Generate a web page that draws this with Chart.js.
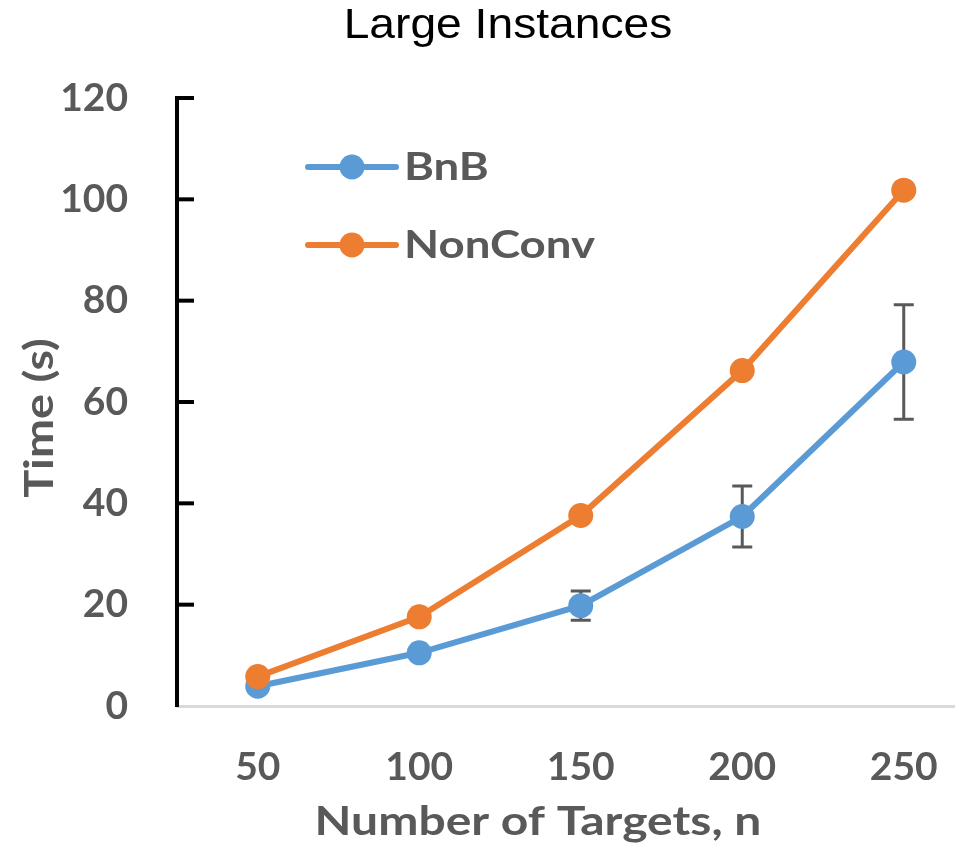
<!DOCTYPE html>
<html>
<head>
<meta charset="utf-8">
<title>Large Instances</title>
<script src="https://cdn.jsdelivr.net/npm/chart.js@4.4.1/dist/chart.umd.min.js"></script>
<style>
  html, body { margin: 0; padding: 0; background: #fff; overflow: hidden; }
  #wrap { width: 955px; height: 848px; position: relative; }
</style>
</head>
<body>
<div id="wrap"><canvas id="chart" width="955" height="848"></canvas></div>
<script>
// data
const targets = [50, 100, 150, 200, 250];
const bnbTime = [3.9, 10.5, 19.8, 37.4, 67.9];
const bnbErr = [null, null, 2.9, 6.0, 11.3];
const nonConvTime = [5.8, 17.6, 37.6, 66.2, 101.8];
const yTicks = [0, 20, 40, 60, 80, 100, 120];

const GREY = '#595959';
const BLUE = '#5B9BD5';
const ORANGE = '#ED7D31';
const tickFont = { family: 'Lato', weight: 'bold', size: 39 };

const toPoints = vals => targets.map((x, i) => ({ x: x, y: vals[i] }));

// draws text stretched along its baseline, like the original export
function wideText(ctx, text, x, y, sx, rot) {
  ctx.save();
  ctx.translate(x, y);
  if (rot) ctx.rotate(rot);
  ctx.scale(sx, 1);
  ctx.fillText(text, 0, 0);
  ctx.restore();
}

// error bars, inner y ticks, titles and legend
const extras = {
  id: 'extras',
  beforeDatasetsDraw(chart) {
    const { ctx, chartArea, scales: { x, y } } = chart;
    ctx.save();
    // let the category axis line run to the edge of the picture
    ctx.strokeStyle = '#d9d9d9';
    ctx.lineWidth = 3;
    ctx.beginPath();
    ctx.moveTo(chartArea.right - 2, Math.round(x.top) + 0.5);
    ctx.lineTo(chart.width, Math.round(x.top) + 0.5);
    ctx.stroke();
    // error bars
    ctx.strokeStyle = GREY;
    ctx.lineWidth = 3;
    bnbErr.forEach((e, i) => {
      if (e == null) return;
      const px = x.getPixelForValue(targets[i]);
      const top = y.getPixelForValue(bnbTime[i] + e);
      const bot = y.getPixelForValue(bnbTime[i] - e);
      ctx.beginPath();
      ctx.moveTo(px, top); ctx.lineTo(px, bot);
      ctx.moveTo(px - 10, top); ctx.lineTo(px + 10, top);
      ctx.moveTo(px - 10, bot); ctx.lineTo(px + 10, bot);
      ctx.stroke();
    });
    ctx.restore();
  },
  afterDraw(chart) {
    const { ctx, scales: { y } } = chart;
    ctx.save();
    // inner tick marks on the y axis
    ctx.strokeStyle = '#000';
    ctx.lineWidth = 4;
    yTicks.forEach(v => {
      if (v === 0) return;
      const py = y.getPixelForValue(v);
      ctx.beginPath();
      ctx.moveTo(y.right, py);
      ctx.lineTo(y.right + 17, py);
      ctx.stroke();
    });
    // chart title
    ctx.fillStyle = '#000';
    ctx.font = '42px "Liberation Sans", Arial, sans-serif';
    ctx.textAlign = 'center';
    ctx.textBaseline = 'alphabetic';
    wideText(ctx, 'Large Instances', 508, 38, 1.1);
    // axis titles
    ctx.fillStyle = GREY;
    ctx.font = 'bold 40px Lato, sans-serif';
    ctx.textBaseline = 'middle';
    wideText(ctx, 'Number of Targets, n', 538, 822, 1.2);
    wideText(ctx, 'Time (s)', 40, 418, 1.17, -Math.PI / 2);
    // legend
    const items = [
      { label: 'BnB', color: BLUE, y: 167 },
      { label: 'NonConv', color: ORANGE, y: 245 }
    ];
    ctx.textAlign = 'left';
    ctx.font = 'bold 38px Lato, sans-serif';
    items.forEach(it => {
      ctx.strokeStyle = it.color;
      ctx.fillStyle = it.color;
      ctx.lineWidth = 6;
      ctx.lineCap = 'round';
      ctx.beginPath();
      ctx.moveTo(308, it.y); ctx.lineTo(396, it.y);
      ctx.stroke();
      ctx.beginPath();
      ctx.arc(352, it.y, 12.5, 0, Math.PI * 2);
      ctx.fill();
      ctx.fillStyle = GREY;
      wideText(ctx, it.label, 404, it.y + 1, 1.2);
    });
    ctx.restore();
  }
};

new Chart(document.getElementById('chart'), {
  type: 'line',
  data: {
    datasets: [
      {
        label: 'BnB',
        data: toPoints(bnbTime),
        borderColor: BLUE,
        backgroundColor: BLUE,
        borderWidth: 6,
        pointRadius: 12.5,
        pointHoverRadius: 12.5,
        pointBorderWidth: 0,
        order: 1
      },
      {
        label: 'NonConv',
        data: toPoints(nonConvTime),
        borderColor: ORANGE,
        backgroundColor: ORANGE,
        borderWidth: 6,
        pointRadius: 12.5,
        pointHoverRadius: 12.5,
        pointBorderWidth: 0,
        order: 0
      }
    ]
  },
  options: {
    responsive: false,
    animation: false,
    layout: { padding: { top: 98, right: 0, left: 0, bottom: 0 } },
    plugins: {
      legend: { display: false },
      title: { display: false },
      tooltip: { enabled: false }
    },
    scales: {
      x: {
        type: 'linear',
        min: 25,
        max: 262,
        afterBuildTicks: s => { s.ticks = targets.map(v => ({ value: v })); },
        afterFit: s => { s.height = 142; s.paddingLeft = 0; s.paddingRight = 0; },
        grid: { display: false, drawTicks: false },
        border: { display: true, color: '#d9d9d9', width: 3 },
        ticks: { color: GREY, font: tickFont, padding: 38, maxRotation: 0 }
      },
      y: {
        min: 0,
        max: 120,
        afterBuildTicks: s => { s.ticks = yTicks.map(v => ({ value: v })); },
        afterFit: s => { s.width = 177; s.paddingTop = 0; s.paddingBottom = 0; },
        grid: { drawOnChartArea: false, drawTicks: false },
        border: { display: true, color: '#000', width: 4 },
        ticks: { color: GREY, font: tickFont, padding: 49 }
      }
    }
  },
  plugins: [extras]
});
</script>
</body>
</html>
